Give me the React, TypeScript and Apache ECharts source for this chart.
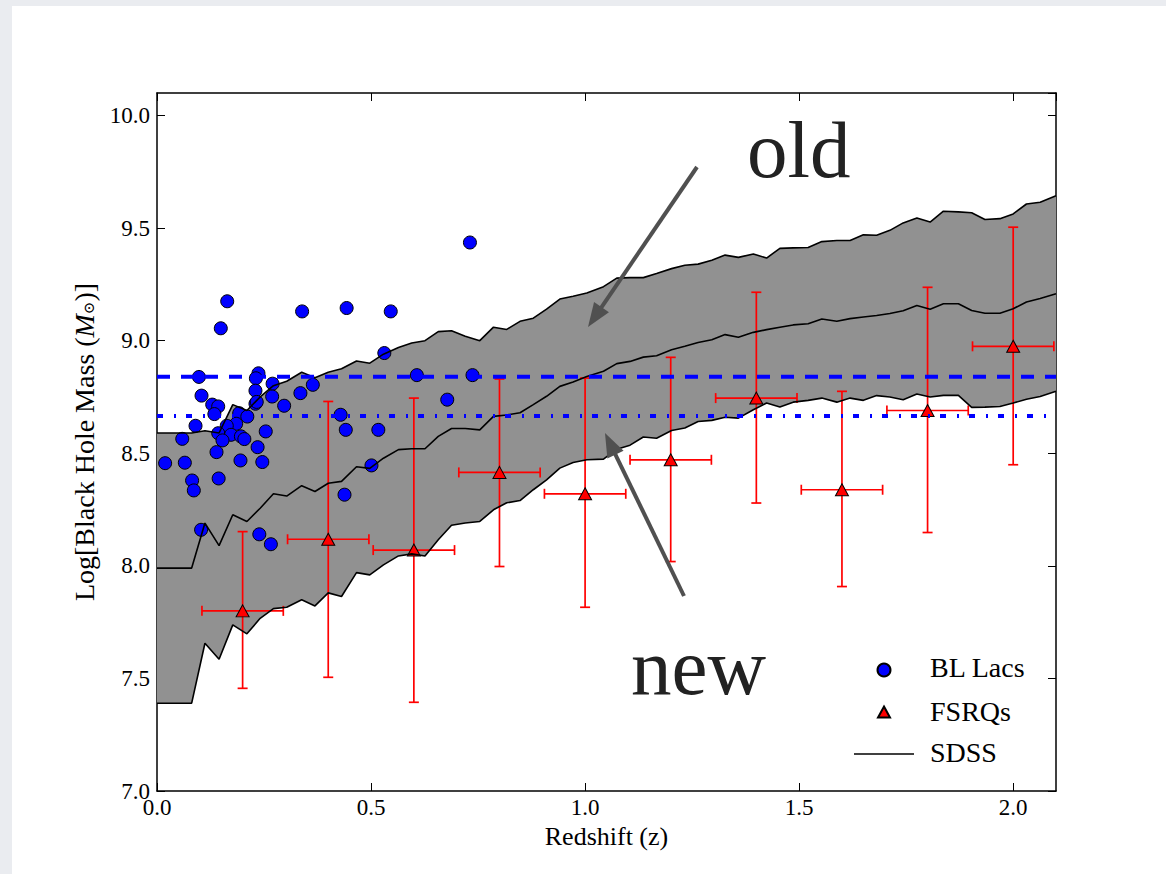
import React, { useEffect, useRef } from "react";
import * as echarts from "echarts";

// ---------------- data ----------------
const bandZ = [
  0, 0.081, 0.112, 0.145, 0.177, 0.21, 0.241, 0.272, 0.303, 0.338,
  0.369, 0.4, 0.431, 0.466, 0.497, 0.529, 0.564, 0.595, 0.626, 0.657,
  0.688, 0.72, 0.754, 0.786, 0.817, 0.848, 0.879, 0.91, 0.941, 0.972,
  1.004, 1.043, 1.074, 1.105, 1.136, 1.167, 1.202, 1.233, 1.264, 1.296,
  1.327, 1.358, 1.393, 1.424, 1.455, 1.486, 1.521, 1.553, 1.588, 1.619,
  1.65, 1.681, 1.712, 1.743, 1.775, 1.806, 1.837, 1.872, 1.903, 1.934,
  1.969, 2.0, 2.031, 2.063, 2.1,
];
const bandUpper = [
  8.59, 8.59, 8.6, 8.59, 8.716, 8.69, 8.75, 8.8, 8.82, 8.86,
  8.835, 8.86, 8.875, 8.91, 8.9, 8.94, 8.97, 8.99, 9.0, 9.04,
  9.044, 9.02, 9.0, 9.06, 9.05, 9.086, 9.1, 9.14, 9.185, 9.197,
  9.212, 9.24, 9.278, 9.28, 9.28, 9.298, 9.32, 9.335, 9.34, 9.357,
  9.38, 9.37, 9.385, 9.367, 9.41, 9.412, 9.414, 9.44, 9.445, 9.445,
  9.47, 9.468, 9.49, 9.523, 9.545, 9.527, 9.575, 9.572, 9.568, 9.538,
  9.542, 9.563, 9.607, 9.615, 9.644,
];
const bandMid = [
  7.99, 7.99, 8.19, 8.09, 8.227, 8.197, 8.256, 8.32, 8.31, 8.356,
  8.33, 8.367, 8.375, 8.44, 8.433, 8.478, 8.516, 8.52, 8.52, 8.575,
  8.61, 8.61, 8.604, 8.664, 8.67, 8.68, 8.716, 8.753, 8.797, 8.816,
  8.841, 8.864, 8.898, 8.908, 8.927, 8.933, 8.96, 8.975, 8.992, 9.004,
  9.027, 9.015, 9.037, 9.049, 9.06, 9.07, 9.075, 9.096, 9.086, 9.098,
  9.105, 9.112, 9.121, 9.133, 9.156, 9.14, 9.164, 9.164, 9.134, 9.122,
  9.122, 9.142, 9.172, 9.187, 9.208,
];
const bandLower = [
  7.39, 7.39, 7.656, 7.585, 7.738, 7.698, 7.767, 7.81, 7.816, 7.849,
  7.822, 7.88, 7.864, 7.97, 7.96, 8.004, 8.044, 8.053, 8.044, 8.116,
  8.18, 8.19, 8.197, 8.249, 8.28, 8.29, 8.338, 8.382, 8.434, 8.459,
  8.471, 8.474, 8.518, 8.536, 8.572, 8.567, 8.601, 8.612, 8.641, 8.646,
  8.66, 8.656, 8.693, 8.723, 8.705, 8.727, 8.735, 8.745, 8.727, 8.745,
  8.735, 8.756, 8.75, 8.738, 8.763, 8.75, 8.757, 8.757, 8.704, 8.705,
  8.708, 8.723, 8.74, 8.752, 8.775,
];

const blLacZ = [
  0.164, 0.149, 0.339, 0.443, 0.546, 0.531, 0.731, 0.098, 0.607, 0.737,
  0.678, 0.237, 0.231, 0.23, 0.27, 0.269, 0.23, 0.297, 0.335, 0.364,
  0.104, 0.129, 0.143, 0.134, 0.192, 0.211, 0.185, 0.163, 0.09, 0.059,
  0.143, 0.173, 0.153, 0.196, 0.204, 0.254, 0.235, 0.139, 0.019, 0.065,
  0.195, 0.246, 0.082, 0.086, 0.144, 0.103, 0.239, 0.266, 0.429, 0.441,
  0.517, 0.501, 0.438, 0.233,
];
const blLacMass = [
  9.175, 9.055, 9.13, 9.145, 9.13, 8.945, 9.436, 8.839, 8.847, 8.847,
  8.738, 8.855, 8.833, 8.778, 8.809, 8.752, 8.72, 8.711, 8.767, 8.804,
  8.756, 8.716, 8.708, 8.674, 8.678, 8.663, 8.631, 8.622, 8.622, 8.564,
  8.589, 8.582, 8.557, 8.575, 8.563, 8.597, 8.527, 8.505, 8.456, 8.458,
  8.468, 8.461, 8.379, 8.335, 8.388, 8.16, 8.14, 8.096, 8.671, 8.604,
  8.604, 8.446, 8.316, 8.728,
];

const fsrqZ = [0.2, 0.4, 0.6, 0.8, 1.0, 1.2, 1.4, 1.6, 1.8, 2.0];
const fsrqMass = [7.8, 8.118, 8.07, 8.415, 8.32, 8.471, 8.745, 8.338, 8.69, 8.975];
const fsrqMassLow = [7.456, 7.505, 7.394, 7.997, 7.816, 8.019, 8.279, 7.908, 8.148, 8.449];
const fsrqMassHigh = [8.152, 8.73, 8.745, 8.83, 8.834, 8.926, 9.215, 8.775, 9.237, 9.504];
const fsrqZErr = [0.095, 0.095, 0.095, 0.095, 0.095, 0.095, 0.095, 0.095, 0.095, 0.095];

const oldLimit = 8.84;
const newLimit = 8.665;

const xRange = [0, 2.1];
const yRange = [7.0, 10.1];

const legendNames = ["BL Lacs", "FSRQs", "SDSS"];

const FONT = "Liberation Serif";

export default function App() {
  const ref = useRef<HTMLDivElement>(null);

  useEffect(() => {
    if (!ref.current) return;
    const chart = echarts.init(ref.current, null, { renderer: "svg" });

    const arrow = (tx: number, ty: number, hx: number, hy: number) => {
      const dx = hx - tx;
      const dy = hy - ty;
      const len = Math.sqrt(dx * dx + dy * dy);
      const ux = dx / len;
      const uy = dy / len;
      const L = 24;
      const W = 9;
      const bx = hx - ux * L;
      const by = hy - uy * L;
      return [
        {
          type: "line",
          shape: { x1: tx, y1: ty, x2: bx + ux * 2, y2: by + uy * 2 },
          style: { stroke: "#505050", lineWidth: 4 },
          z: 100,
        },
        {
          type: "polygon",
          shape: {
            points: [
              [hx, hy],
              [bx - uy * W, by + ux * W],
              [bx + uy * W, by - ux * W],
            ],
          },
          style: { fill: "#505050" },
          z: 100,
        },
      ];
    };

    const axisCommon = {
      type: "value",
      axisLine: { show: true, onZero: false, lineStyle: { color: "#000", width: 1.5 } },
      axisTick: { show: true, inside: true, length: 8, lineStyle: { color: "#000", width: 1 } },
      splitLine: { show: false },
    };

    const tickLabel = {
      fontFamily: FONT,
      fontSize: 23,
      color: "#000",
      showMaxLabel: false,
      formatter: (v: number) => v.toFixed(1),
    };

    const legendTextY = [661, 705, 746];

    const option: any = {
      animation: false,
      backgroundColor: "#ffffff",
      textStyle: { fontFamily: FONT, color: "#000" },
      grid: { left: 145, top: 87, right: 110, bottom: 83, containLabel: false },
      xAxis: [
        {
          ...axisCommon,
          position: "bottom",
          min: xRange[0],
          max: xRange[1],
          interval: 0.5,
          axisLabel: { ...tickLabel, margin: 5 },
          name: "Redshift (z)",
          nameLocation: "middle",
          nameGap: 29,
          nameTextStyle: { fontFamily: FONT, fontSize: 26, color: "#000", verticalAlign: "top" },
        },
        {
          ...axisCommon,
          position: "top",
          min: xRange[0],
          max: xRange[1],
          interval: 0.5,
          axisLabel: { show: false },
        },
      ],
      yAxis: [
        {
          ...axisCommon,
          position: "left",
          min: yRange[0],
          max: yRange[1],
          interval: 0.5,
          axisLabel: { ...tickLabel, margin: 7 },
          name: "Log[Black Hole Mass ({i|M}{s|⊙})]",
          nameLocation: "middle",
          nameGap: 57,
          nameRotate: 90,
          nameTextStyle: {
            fontFamily: FONT,
            fontSize: 28,
            color: "#000",
            rich: {
              i: { fontFamily: FONT, fontSize: 28, fontStyle: "italic", color: "#000" },
              s: { fontFamily: "DejaVu Serif", fontSize: 15, color: "#000", padding: [9, 0, 0, 0] },
            },
          },
        },
        {
          ...axisCommon,
          position: "right",
          min: yRange[0],
          max: yRange[1],
          interval: 0.5,
          axisLabel: { show: false },
        },
      ],
      legend: {
        data: [
          { name: legendNames[0], icon: "circle" },
          { name: legendNames[1], icon: "path://M0 0 M60 13 M30 1 L36 12 L24 12 Z" },
          { name: legendNames[2], icon: "path://M0 0 H60 V1.6 H0 Z" },
        ],
        orient: "vertical",
        left: 836,
        top: 644,
        itemWidth: 60,
        itemHeight: 13,
        itemGap: 12,
        selectedMode: false,
        formatter: () => " ",
        textStyle: { fontFamily: FONT, fontSize: 28, color: "#000", lineHeight: 30 },
      },
      series: [
        {
          type: "custom",
          name: "SDSS band",
          silent: true,
          data: bandZ.map((z, i) => [z, bandLower[i], bandUpper[i]]),
          encode: { x: 0, y: [1, 2] },
          renderItem: (params: any, api: any) => {
            if (params.dataIndex !== 0) return null;
            const pts: number[][] = [];
            for (let i = 0; i < bandZ.length; i++) pts.push(api.coord([bandZ[i], bandUpper[i]]));
            for (let i = bandZ.length - 1; i >= 0; i--) pts.push(api.coord([bandZ[i], bandLower[i]]));
            return { type: "polygon", shape: { points: pts }, style: { fill: "#919191" } };
          },
        },
        {
          type: "line",
          name: "SDSS",
          data: bandZ.map((z, i) => [z, bandUpper[i]]),
          symbol: "none",
          lineStyle: { color: "#000", width: 1.6 },
          itemStyle: { color: "#000" },
        },
        {
          type: "line",
          name: "SDSS",
          data: bandZ.map((z, i) => [z, bandLower[i]]),
          symbol: "none",
          lineStyle: { color: "#000", width: 1.6 },
          itemStyle: { color: "#000" },
        },
        {
          type: "line",
          name: "SDSS",
          data: bandZ.map((z, i) => [z, bandMid[i]]),
          symbol: "none",
          lineStyle: { color: "#000", width: 1.6 },
          itemStyle: { color: "#000" },
        },
        {
          type: "line",
          name: "old limit",
          data: [
            [xRange[0], oldLimit],
            [xRange[1], oldLimit],
          ],
          symbol: "none",
          lineStyle: { color: "#0000ff", width: 4, type: [13, 11] },
        },
        {
          type: "line",
          name: "new limit",
          data: [
            [xRange[0], newLimit],
            [xRange[1], newLimit],
          ],
          symbol: "none",
          lineStyle: { color: "#0000ff", width: 4, type: [6, 11, 2, 10] },
        },
        {
          type: "custom",
          name: "FSRQ errors",
          silent: true,
          data: fsrqZ.map((z, i) => [z, fsrqMass[i], fsrqMassLow[i], fsrqMassHigh[i], fsrqZErr[i]]),
          encode: { x: 0, y: 1 },
          renderItem: (params: any, api: any) => {
            const z = api.value(0);
            const m = api.value(1);
            const lo = api.value(2);
            const hi = api.value(3);
            const ze = api.value(4);
            const top = api.coord([z, hi]);
            const bot = api.coord([z, lo]);
            const l = api.coord([z - ze, m]);
            const r = api.coord([z + ze, m]);
            const c = 5;
            const style = { stroke: "#ff0000", lineWidth: 1.7 };
            const ln = (x1: number, y1: number, x2: number, y2: number) => ({
              type: "line",
              shape: { x1, y1, x2, y2 },
              style,
            });
            return {
              type: "group",
              children: [
                ln(top[0], top[1], bot[0], bot[1]),
                ln(top[0] - c, top[1], top[0] + c, top[1]),
                ln(bot[0] - c, bot[1], bot[0] + c, bot[1]),
                ln(l[0], l[1], r[0], r[1]),
                ln(l[0], l[1] - c, l[0], l[1] + c),
                ln(r[0], r[1] - c, r[0], r[1] + c),
              ],
            };
          },
        },
        {
          type: "scatter",
          name: "BL Lacs",
          data: blLacZ.map((z, i) => [z, blLacMass[i]]),
          symbol: "circle",
          symbolSize: 13,
          itemStyle: { color: "#0000ff", borderColor: "#000", borderWidth: 1, opacity: 1 },
        },
        {
          type: "scatter",
          name: "FSRQs",
          data: fsrqZ.map((z, i) => [z, fsrqMass[i]]),
          symbol: "triangle",
          symbolSize: [13, 12],
          itemStyle: { color: "#ff0000", borderColor: "#000", borderWidth: 1, opacity: 1 },
        },
      ],
      graphic: [
        {
          type: "text",
          left: 735,
          top: 103,
          style: { text: "old", fontFamily: FONT, fontSize: 81, fill: "#222" },
          z: 100,
        },
        {
          type: "text",
          left: 619,
          top: 620,
          style: { text: "new", fontFamily: FONT, fontSize: 81, fill: "#222" },
          z: 100,
        },
        ...legendNames.map((n, i) => ({
          type: "text",
          x: 918,
          y: legendTextY[i],
          style: {
            text: n,
            fontFamily: FONT,
            fontSize: 28,
            fill: "#000",
            verticalAlign: "middle",
            align: "left",
          },
          z: 100,
        })),
        ...arrow(685, 161, 576, 321),
        ...arrow(672, 590, 593, 427),
      ],
    };

    chart.setOption(option);
    return () => chart.dispose();
  }, []);

  return (
    <div style={{ position: "fixed", left: 0, top: 0, width: 1166, height: 874, background: "#eaecf0" }}>
      <div
        ref={ref}
        style={{ position: "absolute", left: 12, top: 6, width: 1154, height: 868, background: "#ffffff" }}
      />
    </div>
  );
}
